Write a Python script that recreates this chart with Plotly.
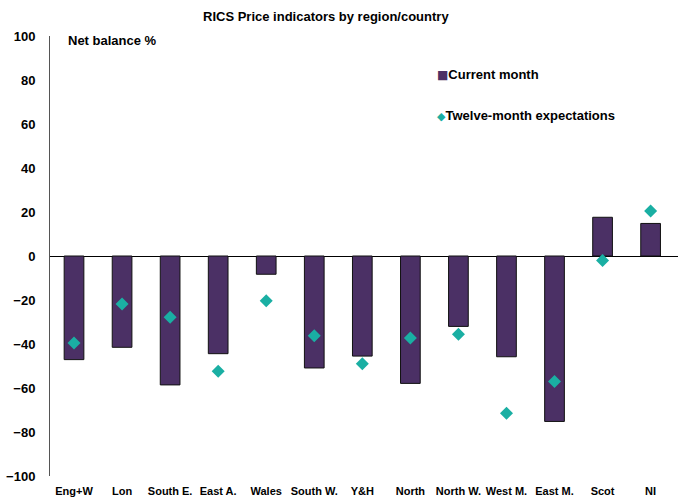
import plotly.graph_objects as go

categories = ["Eng+W", "Lon", "South E.", "East A.", "Wales", "South W.", "Y&H",
              "North", "North W.", "West M.", "East M.", "Scot", "NI"]
current_month = [-47.1, -41.5, -58.6, -44.4, -8.3, -50.9, -45.5,
                 -57.9, -32.0, -45.8, -75.2, 17.6, 14.8]
twelve_month = [-39.6, -21.8, -27.8, -52.4, -20.3, -36.2, -49.0,
                -37.3, -35.6, -71.5, -57.1, -2.0, 20.5]
y_ticks = [-100, -80, -60, -40, -20, 0, 20, 40, 60, 80, 100]
series_names = ["Current month", "Twelve-month expectations"]

FONT = "Liberation Sans, Arial, sans-serif"
PURPLE = "#4B3065"
TEAL = "#1AAFA3"
PW = 628  # plot width in px

fig = go.Figure()
fig.add_trace(go.Bar(
    x=categories, y=current_month, name=series_names[0],
    marker=dict(color=PURPLE, line=dict(color="#111111", width=1)),
    width=0.41, showlegend=False,
))
fig.add_trace(go.Scatter(
    x=categories, y=twelve_month, name=series_names[1],
    mode="markers", marker=dict(symbol="diamond", color=TEAL, size=10),
    showlegend=False,
))

legend_items = [
    (f'<span style="color:{PURPLE};font-size:12px;font-family:DejaVu Sans">■</span>' + series_names[0], 74),
    (f'<span style="color:{TEAL};font-size:11px;font-family:DejaVu Sans">◆</span>' + series_names[1], 115),
]

annotations = [
    dict(text="RICS Price indicators by region/country", xref="paper", yref="paper",
         x=(326 - 50) / PW, y=1, yshift=20, xanchor="center", yanchor="middle",
         showarrow=False, font=dict(family=FONT, size=13, weight="bold")),
    dict(text="Net balance %", xref="paper", yref="paper",
         x=(66 - 50) / PW, y=1, yshift=-4, xanchor="left", yanchor="middle",
         showarrow=False, font=dict(family=FONT, size=13, weight="bold")),
]
for text, ypx in legend_items:
    annotations.append(dict(
        text=text, xref="paper", yref="paper",
        x=(435 - 50) / PW, y=1 - (ypx - 36) / 440, xanchor="left", yanchor="middle",
        showarrow=False, font=dict(family=FONT, size=13, weight="bold", color="#000000")))

fig.update_layout(
    width=678, height=497,
    margin=dict(l=50, r=0, t=36, b=21),
    paper_bgcolor="white", plot_bgcolor="white",
    font=dict(family=FONT, size=12, color="#000000"),
    showlegend=False,
    xaxis=dict(range=[-0.5, 12.57], showline=False, showgrid=False, zeroline=False,
               ticks="", tickfont=dict(family=FONT, size=11, weight="bold"),
               ticklabelstandoff=7),
    yaxis=dict(range=[-100, 100], tickvals=y_ticks, showgrid=False,
               showline=True, linecolor="#555555", linewidth=1,
               zeroline=True, zerolinecolor="#000000", zerolinewidth=1,
               ticks="", tickfont=dict(family=FONT, size=13, weight="bold"),
               ticklabelstandoff=11),
    annotations=annotations,
)

fig.write_html("out.html")
